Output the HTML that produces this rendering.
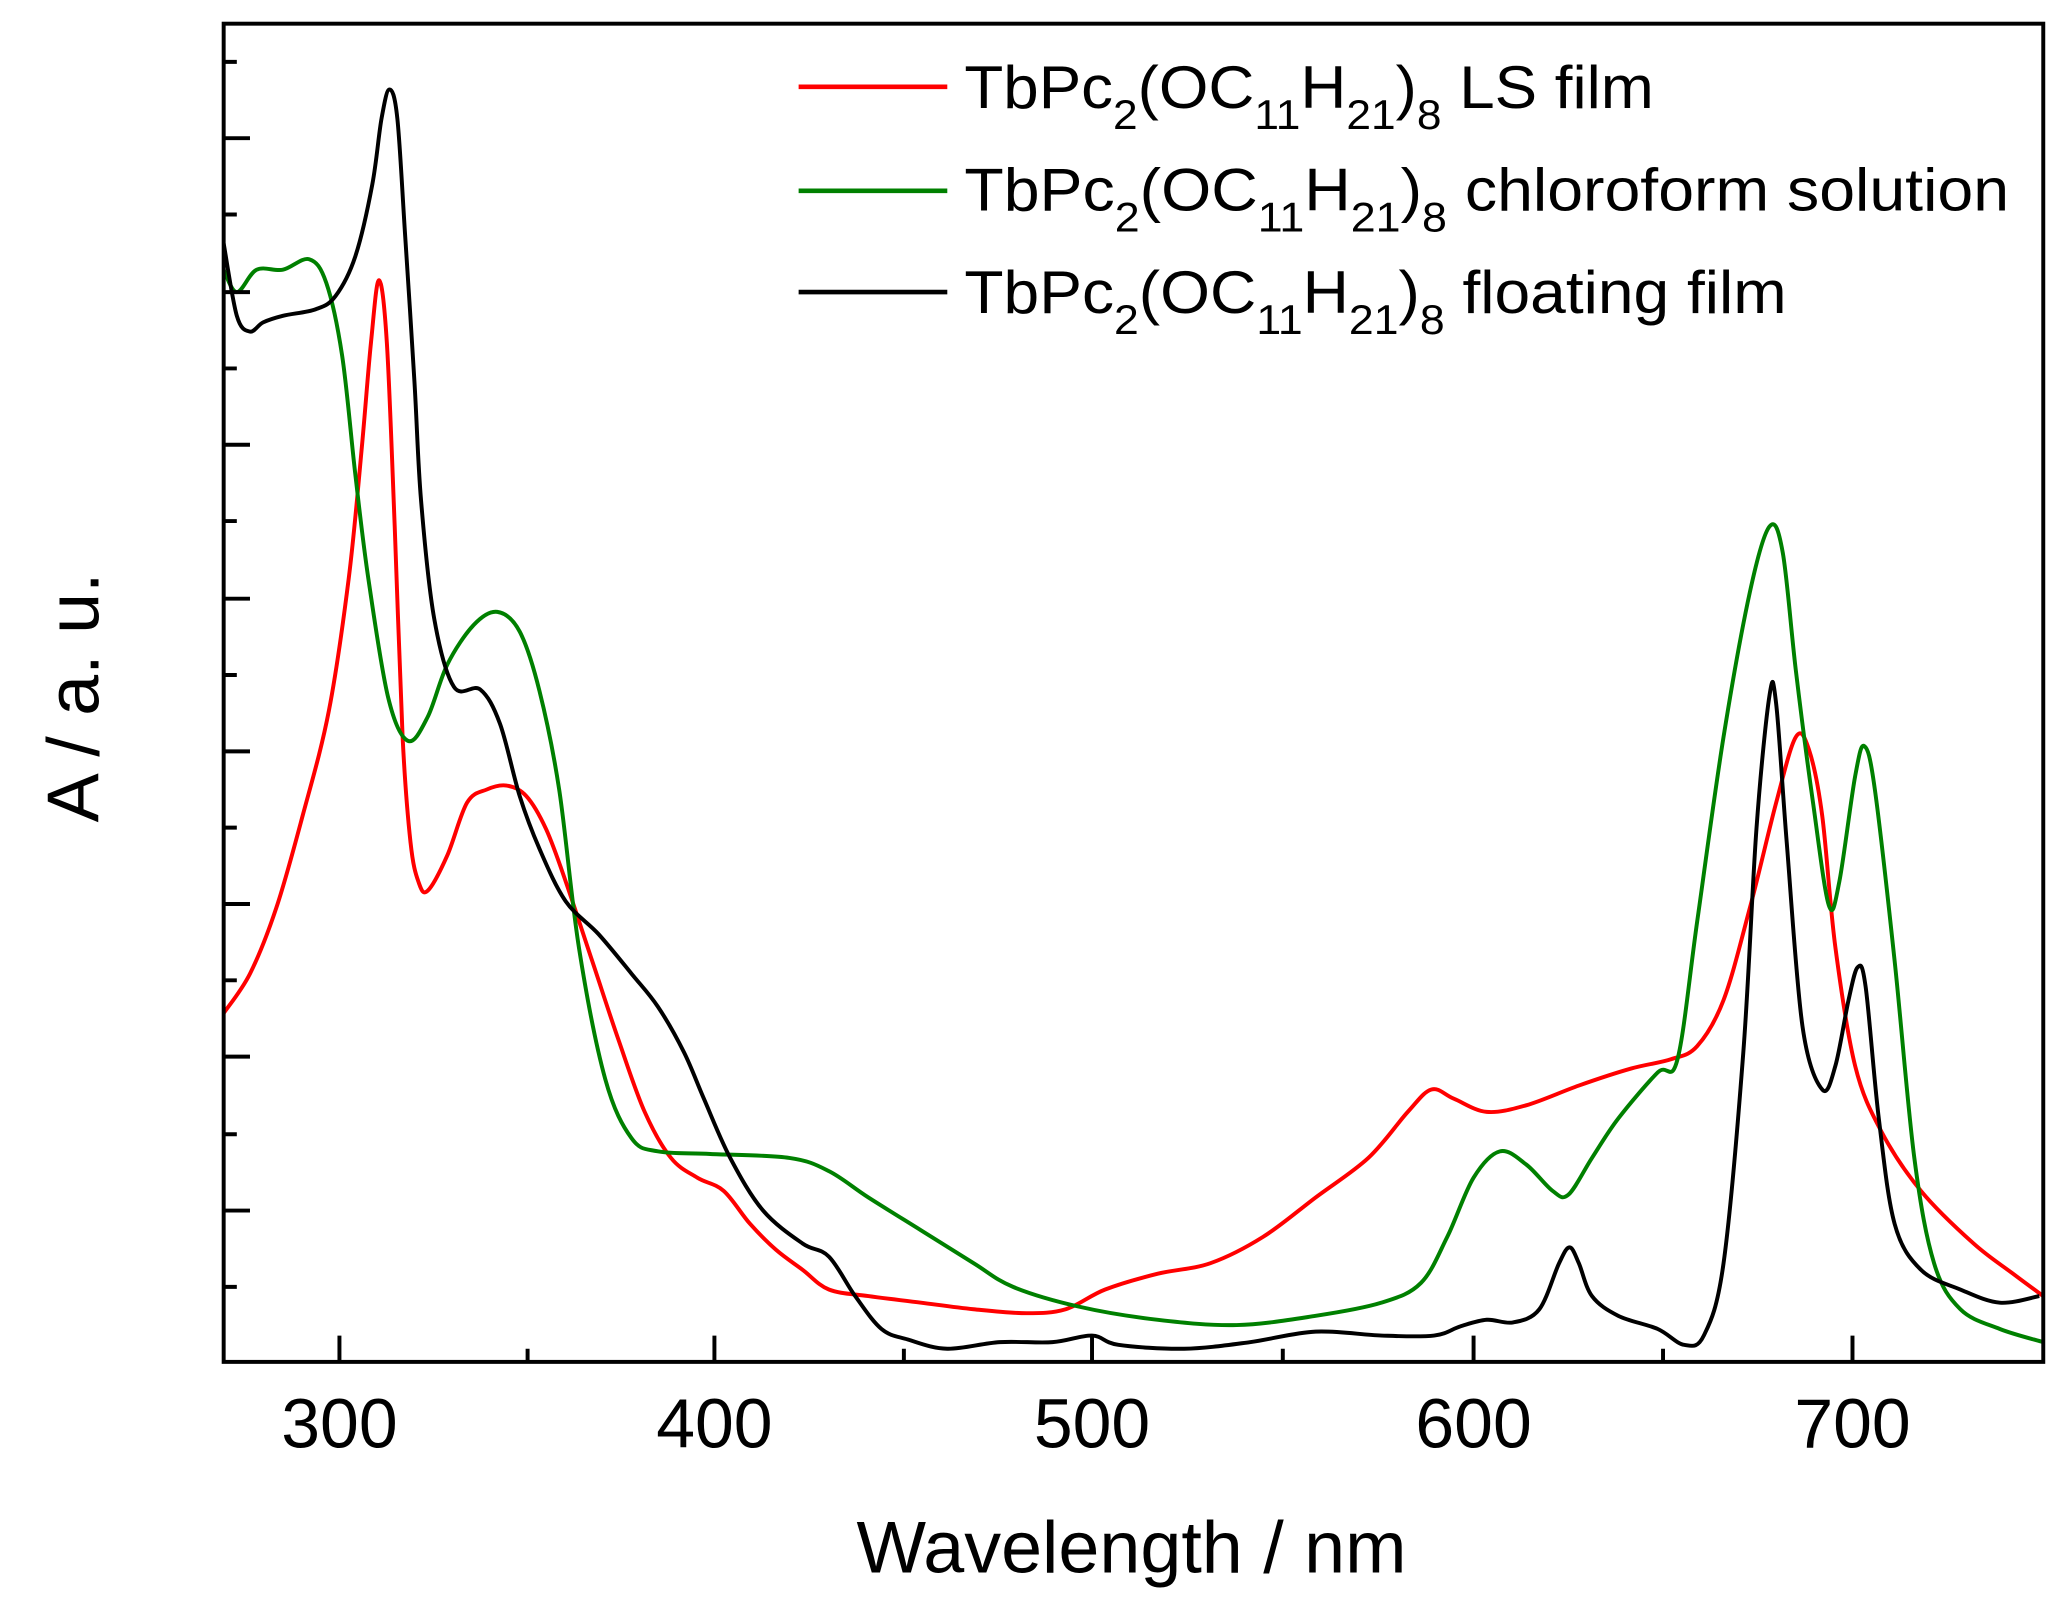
<!DOCTYPE html>
<html><head><style>html,body{margin:0;padding:0;background:#fff}svg{display:block}</style></head>
<body>
<svg id="s" width="2063" height="1604" viewBox="0 0 1568 1219" preserveAspectRatio="none" xmlns="http://www.w3.org/2000/svg" font-family="Liberation Sans, Arial, sans-serif">
<defs><clipPath id="c"><rect x="170" y="18" width="1383" height="1017"/></clipPath></defs>
<g id="curves" clip-path="url(#c)" fill="none" stroke-width="3" stroke-linejoin="round">
<polyline stroke="#ff0000" points="170,770 190,740 210,690 230,620 250,540 265,440 275,340 282,260 288,213 294,260 300,400 306,560 312,640 318,670 325,677 340,650 355,610 370,600 385,597 400,605 415,630 430,670 450,730 470,790 490,845 510,880 530,895 550,905 570,930 590,950 610,965 630,980 660,985 700,990 740,995 780,998 810,995 840,980 880,968 920,960 960,940 1000,910 1040,880 1070,845 1088,828 1105,835 1130,845 1160,840 1200,825 1240,812 1270,805 1290,795 1310,760 1330,690 1350,610 1365,560 1375,570 1385,620 1395,720 1410,810 1430,860 1460,905 1500,945 1530,968 1553,985"/>
<polyline stroke="#008000" points="170,205 180,222 195,205 215,205 235,197 248,215 260,270 270,360 280,440 295,530 310,563 325,545 340,505 360,475 378,465 395,480 410,525 425,600 440,720 460,820 480,865 500,875 540,877 600,880 630,890 660,910 700,935 740,960 770,978 820,993 880,1003 940,1007 1000,1000 1050,990 1080,975 1100,940 1120,895 1140,875 1160,885 1180,905 1192,908 1210,880 1230,850 1260,815 1275,805 1290,700 1310,560 1330,450 1345,400 1355,420 1365,510 1378,610 1390,688 1398,670 1410,590 1417,567 1425,600 1440,730 1455,880 1470,960 1490,995 1520,1010 1553,1020"/>
<polyline stroke="#000" points="170,185 180,240 190,252 200,245 215,240 240,235 255,225 270,195 283,140 290,90 296,68 302,90 308,180 315,290 320,380 330,470 345,522 365,524 380,550 395,605 410,645 430,685 455,710 480,740 500,765 520,800 535,835 555,880 580,920 610,945 630,955 650,985 670,1010 690,1018 720,1025 760,1020 800,1020 830,1015 850,1022 900,1025 950,1020 1000,1012 1050,1015 1090,1015 1110,1008 1130,1003 1150,1005 1170,995 1185,960 1193,948 1200,960 1210,985 1230,1000 1260,1010 1280,1022 1295,1015 1310,960 1325,800 1335,630 1345,528 1350,535 1358,640 1370,780 1385,828 1395,810 1405,760 1412,735 1418,750 1428,850 1440,930 1460,965 1490,980 1520,990 1550,985"/>
</g>
<g stroke="#000" stroke-width="3" fill="none">
<rect x="170" y="18" width="1383" height="1017"/>
<path d="M170,105h20M170,222h20M170,338h20M170,455h20M170,571h20M170,687h20M170,803h20M170,920h20
M170,47h10M170,163h10M170,280h10M170,396h10M170,513h10M170,629h10M170,745h10M170,862h10M170,978h10
M258,1035v-20M543,1035v-20M830,1035v-20M1120,1035v-20M1408,1035v-20
M401,1035v-10M687,1035v-10M975,1035v-10M1264,1035v-10"/>
</g>
<g font-size="53" text-anchor="middle" fill="#000">
<text x="258" y="1100">300</text><text x="543" y="1100">400</text><text x="830" y="1100">500</text><text x="1120" y="1100">600</text><text x="1408" y="1100">700</text>
<text x="860" y="1195" font-size="56">Wavelength / nm</text>
<text transform="translate(75,530) rotate(-90)" font-size="56">A / a. u.</text>
</g>
<g stroke-width="3.5"><line x1="607" y1="66" x2="720" y2="66" stroke="#ff0000"/><line x1="607" y1="145" x2="720" y2="145" stroke="#008000"/><line x1="607" y1="222" x2="720" y2="222" stroke="#000"/></g>
<g font-size="46" fill="#000">
<text x="733" y="82" textLength="524" lengthAdjust="spacingAndGlyphs">TbPc<tspan font-size="32" dy="16">2</tspan><tspan dy="-16">(OC</tspan><tspan font-size="32" dy="16">11</tspan><tspan dy="-16">H</tspan><tspan font-size="32" dy="16">21</tspan><tspan dy="-16">)</tspan><tspan font-size="32" dy="16">8</tspan><tspan dy="-16"> LS film</tspan></text>
<text x="733" y="160" textLength="794" lengthAdjust="spacingAndGlyphs">TbPc<tspan font-size="32" dy="16">2</tspan><tspan dy="-16">(OC</tspan><tspan font-size="32" dy="16">11</tspan><tspan dy="-16">H</tspan><tspan font-size="32" dy="16">21</tspan><tspan dy="-16">)</tspan><tspan font-size="32" dy="16">8</tspan><tspan dy="-16"> chloroform solution</tspan></text>
<text x="733" y="238" textLength="625" lengthAdjust="spacingAndGlyphs">TbPc<tspan font-size="32" dy="16">2</tspan><tspan dy="-16">(OC</tspan><tspan font-size="32" dy="16">11</tspan><tspan dy="-16">H</tspan><tspan font-size="32" dy="16">21</tspan><tspan dy="-16">)</tspan><tspan font-size="32" dy="16">8</tspan><tspan dy="-16"> floating film</tspan></text>
</g>
</svg>
<script>
(function(){
var ns="http://www.w3.org/2000/svg";
var pls=document.querySelectorAll("#curves polyline");
for(var k=0;k<pls.length;k++){
 var pl=pls[k];var a=pl.getAttribute("points").trim().split(/\s+/).map(function(s){var q=s.split(",");return [+q[0],+q[1]];});
 var d="M"+a[0][0]+","+a[0][1];
 for(var i=0;i<a.length-1;i++){
  var p0=a[Math.max(0,i-1)],p1=a[i],p2=a[i+1],p3=a[Math.min(a.length-1,i+2)];
  var c1x=p1[0]+(p2[0]-p0[0])/6,c1y=p1[1]+(p2[1]-p0[1])/6,c2x=p2[0]-(p3[0]-p1[0])/6,c2y=p2[1]-(p3[1]-p1[1])/6;
  d+="C"+c1x.toFixed(1)+","+c1y.toFixed(1)+" "+c2x.toFixed(1)+","+c2y.toFixed(1)+" "+p2[0]+","+p2[1];
 }
 var p=document.createElementNS(ns,"path");p.setAttribute("d",d);p.setAttribute("stroke",pl.getAttribute("stroke"));
 pl.parentNode.replaceChild(p,pl);
}
})();
</script>
</body></html>
